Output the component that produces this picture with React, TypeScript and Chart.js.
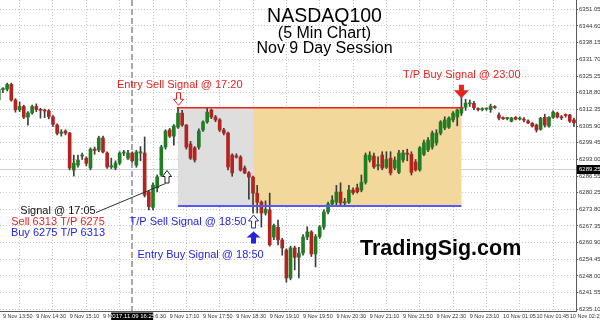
import React, { useEffect, useRef } from 'react';
import { Chart, registerables } from 'chart.js';

Chart.register(...registerables);

const FONT = '"Liberation Sans", Arial, Helvetica, sans-serif';

// first candle is bar -1 (9 Nov 13:45); bar 0 = 9 Nov 13:50, one bar = 5 minutes
const firstBar = -1;

const opens = [
  6316.0, 6320.0, 6320.2, 6322.0, 6316.0, 6312.2, 6313.5, 6309.4, 6311.0, 6313.5,
  6312.3, 6312.0, 6311.8, 6309.5, 6306.3, 6303.1, 6304.0, 6303.2, 6288.9, 6290.8,
  6294.3, 6293.5, 6289.7, 6297.0, 6296.7, 6301.3, 6295.5, 6290.1, 6289.7, 6291.6,
  6295.5, 6293.5, 6295.5, 6290.8, 6295.5, 6295.5, 6280.5, 6274.5, 6282.0, 6287.0,
  6297.8, 6304.4, 6302.0, 6305.5, 6310.9, 6306.3, 6299.0, 6297.5, 6297.8, 6304.4,
  6307.5, 6312.1, 6309.4, 6308.3, 6304.4, 6303.2, 6294.7, 6294.3, 6293.9, 6289.7,
  6287.8, 6286.2, 6280.0, 6276.5, 6272.3, 6273.5, 6263.0, 6266.8, 6261.9, 6258.0,
  6247.2, 6258.8, 6255.2, 6256.8, 6263.0, 6265.0, 6256.5, 6263.2, 6266.9, 6272.7,
  6275.8, 6276.5, 6280.4, 6276.2, 6276.5, 6281.2, 6282.0, 6281.2, 6284.2, 6292.8,
  6294.3, 6290.5, 6294.7, 6290.0, 6293.5, 6289.7, 6288.0, 6292.8, 6295.5, 6295.0,
  6292.0, 6289.0, 6295.0, 6296.7, 6297.8, 6299.4, 6303.2, 6305.2, 6305.5, 6308.3,
  6309.4, 6310.9, 6313.2, 6314.5, 6314.7, 6312.6, 6312.3, 6312.5, 6312.3, 6313.3,
  6310.2, 6309.2, 6308.8, 6307.8, 6309.3, 6308.6, 6308.6, 6307.9, 6307.0, 6306.3,
  6304.7, 6309.3, 6305.9, 6309.3, 6310.9, 6309.4, 6310.2, 6310.2, 6308.3,
];

const highs = [
  6321.0, 6320.8, 6322.5, 6322.5, 6316.5, 6315.3, 6314.0, 6311.5, 6314.0, 6314.5,
  6312.8, 6312.5, 6312.3, 6310.0, 6306.8, 6304.5, 6304.5, 6303.5, 6294.7, 6294.7,
  6295.5, 6294.0, 6297.5, 6297.8, 6302.0, 6302.0, 6296.0, 6293.5, 6292.5, 6296.0,
  6296.5, 6296.5, 6296.0, 6296.5, 6298.0, 6301.7, 6281.0, 6284.0, 6287.0, 6298.5,
  6304.5, 6305.0, 6306.5, 6313.2, 6312.0, 6306.5, 6300.0, 6298.0, 6304.8, 6307.9,
  6312.9, 6312.5, 6310.0, 6308.8, 6305.0, 6303.6, 6295.2, 6295.2, 6294.5, 6290.5,
  6288.3, 6286.6, 6283.0, 6277.0, 6277.0, 6280.0, 6268.0, 6269.6, 6262.5, 6258.5,
  6259.5, 6259.5, 6259.0, 6264.0, 6267.0, 6265.5, 6264.0, 6267.5, 6273.5, 6276.5,
  6279.0, 6283.0, 6284.0, 6278.0, 6283.0, 6282.0, 6283.5, 6287.0, 6295.5, 6296.0,
  6295.5, 6294.0, 6296.0, 6296.0, 6296.0, 6294.0, 6296.5, 6296.5, 6297.0, 6296.0,
  6293.0, 6298.0, 6300.5, 6301.5, 6304.0, 6304.5, 6308.0, 6309.5, 6309.5, 6311.5,
  6312.5, 6317.1, 6316.3, 6316.0, 6315.5, 6313.0, 6313.0, 6313.0, 6314.4, 6313.8,
  6311.0, 6309.5, 6309.3, 6309.3, 6309.6, 6309.5, 6309.2, 6308.3, 6307.3, 6306.7,
  6309.3, 6310.5, 6309.6, 6311.8, 6311.3, 6310.0, 6310.6, 6310.5, 6309.0,
];

const lows = [
  6315.0, 6318.8, 6319.5, 6315.5, 6311.3, 6311.5, 6308.8, 6306.3, 6310.5, 6311.5,
  6309.0, 6309.2, 6308.7, 6305.8, 6302.5, 6302.0, 6302.5, 6289.0, 6286.6, 6290.0,
  6293.0, 6290.5, 6289.0, 6295.0, 6296.0, 6295.5, 6289.5, 6289.5, 6289.0, 6291.0,
  6294.5, 6293.0, 6292.0, 6290.0, 6292.5, 6278.5, 6273.5, 6273.5, 6280.5, 6286.5,
  6297.0, 6301.5, 6298.5, 6305.0, 6305.8, 6297.0, 6293.0, 6292.0, 6297.0, 6303.8,
  6307.0, 6308.8, 6307.6, 6303.8, 6302.5, 6289.0, 6286.5, 6293.5, 6288.5, 6287.5,
  6277.7, 6272.3, 6272.3, 6266.9, 6271.5, 6259.5, 6262.0, 6260.0, 6256.0, 6245.6,
  6246.5, 6250.3, 6247.2, 6256.0, 6262.0, 6255.5, 6251.5, 6262.5, 6266.0, 6272.0,
  6275.0, 6275.5, 6275.5, 6275.0, 6276.0, 6279.5, 6280.0, 6280.5, 6283.5, 6292.0,
  6289.5, 6289.0, 6289.0, 6289.5, 6287.0, 6289.0, 6287.5, 6292.0, 6292.5, 6287.0,
  6288.5, 6288.5, 6294.5, 6296.0, 6297.0, 6298.5, 6302.5, 6304.5, 6305.0, 6307.5,
  6306.0, 6310.0, 6312.0, 6313.5, 6312.3, 6311.8, 6311.8, 6312.0, 6311.2, 6312.7,
  6308.3, 6308.5, 6308.3, 6307.5, 6308.3, 6308.3, 6307.5, 6306.8, 6305.5, 6303.6,
  6304.3, 6305.5, 6305.5, 6308.9, 6309.0, 6308.4, 6309.4, 6307.3, 6305.8,
];

const closes = [
  6320.0, 6320.4, 6322.0, 6316.0, 6312.2, 6313.5, 6309.4, 6311.0, 6313.5, 6312.3,
  6312.0, 6311.7, 6309.5, 6306.6, 6303.1, 6303.6, 6303.2, 6289.7, 6291.6, 6292.8,
  6294.7, 6291.5, 6297.0, 6296.5, 6301.3, 6295.9, 6290.1, 6290.6, 6291.6, 6295.5,
  6295.8, 6295.5, 6292.5, 6295.9, 6296.0, 6279.2, 6274.8, 6283.1, 6286.3, 6297.8,
  6304.0, 6302.0, 6306.0, 6310.9, 6306.3, 6297.8, 6293.5, 6292.8, 6304.0, 6307.5,
  6311.3, 6309.4, 6308.3, 6304.4, 6303.2, 6290.1, 6287.8, 6294.0, 6288.9, 6287.8,
  6286.2, 6280.0, 6276.5, 6272.3, 6273.8, 6260.0, 6267.5, 6261.9, 6258.8, 6247.2,
  6258.8, 6255.2, 6256.8, 6263.0, 6265.0, 6256.5, 6263.2, 6266.9, 6272.7, 6275.8,
  6277.3, 6280.4, 6276.2, 6276.7, 6281.2, 6280.2, 6280.5, 6284.2, 6294.7, 6294.7,
  6290.1, 6291.0, 6289.7, 6293.0, 6287.8, 6292.8, 6295.5, 6295.5, 6295.0, 6288.0,
  6289.0, 6297.5, 6299.5, 6300.5, 6303.2, 6303.2, 6307.5, 6308.3, 6309.0, 6310.9,
  6312.1, 6313.2, 6314.8, 6314.8, 6313.0, 6312.3, 6312.6, 6312.8, 6313.6, 6313.1,
  6309.0, 6308.7, 6309.0, 6309.0, 6308.6, 6308.9, 6308.2, 6307.1, 6305.9, 6304.4,
  6308.9, 6306.3, 6309.3, 6311.3, 6309.4, 6309.1, 6310.0, 6307.8, 6307.2,
];

const tickBars = [0, 8, 16, 24, 32, 40, 48, 56, 64, 72, 80, 88, 96, 104, 112, 120, 128, 136];
const tickLabels = [
  '9 Nov 13:50', '9 Nov 14:30', '9 Nov 15:10', '9 Nov 15:50', '9 Nov 16:30', '9 Nov 17:10',
  '9 Nov 17:50', '9 Nov 18:30', '9 Nov 19:10', '9 Nov 19:50', '9 Nov 20:30', '9 Nov 21:10',
  '9 Nov 21:50', '9 Nov 22:30', '9 Nov 23:10', '10 Nov 01:05', '10 Nov 01:45', '10 Nov 02:25',
];
const yTicks = [
  6235.10, 6241.55, 6248.00, 6254.45, 6260.90, 6267.35, 6273.80, 6280.25, 6286.55, 6293.00,
  6299.45, 6305.90, 6312.35, 6318.80, 6325.25, 6331.70, 6338.15, 6344.60, 6351.05,
];

const sellEntry = { bar: 42, price: 6313 };
const buyEntry = { bar: 60, price: 6275 };
const tpBuy = { bar: 110, price: 6313 };
const signalBar = 39;
const cursorBar = 31;
const cursorLabel = '2017.11.09 16:25';
const lastPrice = 6289.25;

const X_MIN = -0.71;
const X_MAX = 137.49;
const Y_MIN = 6234.44;
const Y_MAX = 6354.64;

const RED = '#e52420';
const BLUE = '#2424e0';

function arrow(ctx: CanvasRenderingContext2D, cx: number, tipY: number, dir: number,
  headW: number, headH: number, stemW: number, stemH: number, fill: string, stroke?: string) {
  ctx.beginPath();
  ctx.moveTo(cx, tipY);
  ctx.lineTo(cx + headW, tipY - dir * headH);
  ctx.lineTo(cx + stemW, tipY - dir * headH);
  ctx.lineTo(cx + stemW, tipY - dir * (headH + stemH));
  ctx.lineTo(cx - stemW, tipY - dir * (headH + stemH));
  ctx.lineTo(cx - stemW, tipY - dir * headH);
  ctx.lineTo(cx - headW, tipY - dir * headH);
  ctx.closePath();
  ctx.fillStyle = fill;
  ctx.fill();
  if (stroke) {
    ctx.strokeStyle = stroke;
    ctx.lineWidth = 1;
    ctx.stroke();
  }
}

const overlay = {
  id: 'overlay',
  beforeDatasetsDraw(chart: any) {
    const { ctx, chartArea: ca, scales } = chart;
    const x = scales.x, y = scales.y;
    ctx.save();
    // last price line
    const lp = Math.round(y.getPixelForValue(lastPrice)) + 0.5;
    ctx.strokeStyle = '#d2d2d2';
    ctx.lineWidth = 1;
    ctx.beginPath();
    ctx.moveTo(ca.left, lp);
    ctx.lineTo(ca.right, lp);
    ctx.stroke();
    // boxes
    const x0 = x.getPixelForValue(sellEntry.bar);
    const x1 = x.getPixelForValue(buyEntry.bar);
    const x2 = x.getPixelForValue(tpBuy.bar);
    const yT = y.getPixelForValue(sellEntry.price);
    const yB = y.getPixelForValue(buyEntry.price);
    ctx.fillStyle = '#dedede';
    ctx.fillRect(x0, yT, x1 - x0, yB - yT);
    ctx.fillStyle = '#f2d99b';
    ctx.fillRect(x1, yT, x2 - x1, yB - yT);
    // cursor dashed line
    const cx = Math.round(x.getPixelForValue(cursorBar));
    ctx.strokeStyle = '#a8a8a8';
    ctx.lineWidth = 2;
    ctx.setLineDash([6, 3]);
    ctx.beginPath();
    ctx.moveTo(cx, ca.top);
    ctx.lineTo(cx, ca.bottom);
    ctx.stroke();
    ctx.restore();
  },
  afterDatasetsDraw(chart: any) {
    const { ctx, scales } = chart;
    const x = scales.x, y = scales.y;
    const x0 = x.getPixelForValue(sellEntry.bar);
    const x2 = x.getPixelForValue(tpBuy.bar);
    ctx.save();
    ctx.strokeStyle = RED;
    ctx.lineWidth = 1.5;
    ctx.beginPath();
    const yT = y.getPixelForValue(sellEntry.price);
    ctx.moveTo(x0, yT);
    ctx.lineTo(x2 + 2, yT);
    ctx.stroke();
    ctx.strokeStyle = '#5858f2';
    ctx.lineWidth = 2;
    ctx.beginPath();
    const yB = y.getPixelForValue(buyEntry.price);
    ctx.moveTo(x0, yB);
    ctx.lineTo(x2, yB);
    ctx.stroke();
    ctx.restore();
  },
  afterDraw(chart: any) {
    const { ctx, chartArea: ca, scales } = chart;
    const x = scales.x, y = scales.y;
    ctx.save();
    const xs = x.getPixelForValue(sellEntry.bar);
    const xb = x.getPixelForValue(buyEntry.bar);
    const xt = x.getPixelForValue(tpBuy.bar);
    const xg = x.getPixelForValue(signalBar);
    const ySell = y.getPixelForValue(sellEntry.price);

    // arrows
    arrow(ctx, xs + 0.5, ySell - 2.5, 1, 5, 6, 2, 6.5, '#ffffff', RED);
    arrow(ctx, xt, ySell - 9.5, 1, 7.5, 8, 2.5, 5.5, RED);
    arrow(ctx, xg + 1.5, 170.5, -1, 4.5, 6, 2, 6.5, '#ffffff', '#202020');
    arrow(ctx, xb + 0.5, 215, -1, 5, 6, 2, 7, '#ffffff', BLUE);
    arrow(ctx, xb + 0.5, 231.5, -1, 7, 6, 2.5, 6, BLUE);

    // connector line from signal note to the arrow
    ctx.strokeStyle = '#303030';
    ctx.lineWidth = 1;
    ctx.beginPath();
    ctx.moveTo(96, 212.5);
    ctx.lineTo(xg, 183.5);
    ctx.stroke();

    // texts
    ctx.textBaseline = 'alphabetic';
    ctx.font = `11px ${FONT}`;
    ctx.textAlign = 'left';
    ctx.fillStyle = RED;
    ctx.fillText('Entry Sell Signal @ 17:20', 117, 88);
    ctx.fillText('T/P Buy Signal @ 23:00', 403, 77.5);
    ctx.fillStyle = BLUE;
    ctx.fillText('T/P Sell Signal @ 18:50', 129.5, 224.5);
    ctx.fillText('Entry Buy Signal @ 18:50', 137.5, 258);
    ctx.textAlign = 'center';
    ctx.fillStyle = '#111111';
    ctx.fillText('Signal @ 17:05', 58, 213.5);
    ctx.fillStyle = RED;
    ctx.fillText('Sell 6313 T/P 6275', 58, 225);
    ctx.fillStyle = BLUE;
    ctx.fillText('Buy 6275 T/P 6313', 58, 236);

    // title
    ctx.fillStyle = '#000000';
    ctx.font = `19.5px ${FONT}`;
    ctx.fillText('NASDAQ100', 324.5, 21.5);
    ctx.font = `16px ${FONT}`;
    ctx.fillText('(5 Min Chart)', 324.5, 37.5);
    ctx.fillText('Nov 9 Day Session', 324.5, 53);

    // watermark
    ctx.font = `bold 21.5px ${FONT}`;
    ctx.fillStyle = '#050505';
    ctx.textAlign = 'left';
    ctx.fillText('TradingSig.com', 360, 255);

    // last price box on the axis
    const lp = Math.round(y.getPixelForValue(lastPrice));
    ctx.fillStyle = '#000000';
    ctx.fillRect(ca.right + 1, lp - 4, 600 - ca.right - 1, 9);
    ctx.fillStyle = '#ffffff';
    ctx.font = `6px ${FONT}`;
    ctx.textBaseline = 'middle';
    ctx.fillText(lastPrice.toFixed(2), ca.right + 3, lp + 0.5);

    // cursor time box on the time axis
    const cx = x.getPixelForValue(cursorBar);
    ctx.fillStyle = '#000000';
    ctx.fillRect(cx - 21, ca.bottom + 1.5, 42, 8);
    ctx.fillStyle = '#ffffff';
    ctx.textAlign = 'center';
    ctx.fillText(cursorLabel, cx, ca.bottom + 5.5);
    ctx.restore();
  },
};

export default function App() {
  const ref = useRef<HTMLCanvasElement | null>(null);

  useEffect(() => {
    const canvas = ref.current;
    if (!canvas) return;
    const wick = opens.map((_, k) => ({ x: firstBar + k, y: [lows[k], highs[k]] }));
    const body = opens.map((o, k) => ({ x: firstBar + k, y: [o, closes[k]] }));
    const bodyColors = opens.map((o, k) => (closes[k] >= o ? '#1f7d22' : '#b3231f'));

    const chart = new Chart(canvas, {
      type: 'bar',
      data: {
        datasets: [
          {
            label: 'wick',
            data: wick as any,
            backgroundColor: '#3c3c3c',
            barThickness: 1,
            grouped: false,
            order: 2,
          } as any,
          {
            label: 'body',
            data: body as any,
            backgroundColor: bodyColors,
            barThickness: 3,
            minBarLength: 1,
            grouped: false,
            order: 1,
          } as any,
        ],
      },
      options: {
        animation: false,
        responsive: false,
        maintainAspectRatio: false,
        layout: { padding: 0 },
        plugins: {
          legend: { display: false },
          tooltip: { enabled: false },
          title: { display: false },
        },
        scales: {
          x: {
            type: 'linear',
            min: X_MIN,
            max: X_MAX,
            offset: false,
            position: 'bottom',
            grid: { display: false, drawTicks: false },
            border: { display: true, color: '#5a5a5a', width: 1 },
            ticks: {
              autoSkip: false,
              maxRotation: 0,
              minRotation: 0,
              align: 'start',
              padding: 2,
              color: '#333333',
              font: { size: 5.5, family: FONT },
              callback: (v: any) => {
                const k = tickBars.indexOf(Number(v));
                return k >= 0 ? tickLabels[k] : '';
              },
            },
            afterBuildTicks: (s: any) => {
              s.ticks = tickBars.map((v) => ({ value: v }));
            },
            afterFit: (s: any) => {
              s.height = 9;
              s.paddingLeft = 0;
              s.paddingRight = 0;
            },
          },
          xg: {
            type: 'linear',
            min: X_MIN,
            max: X_MAX,
            offset: false,
            position: 'bottom',
            grid: { display: true, color: '#c6c6c6', drawTicks: false, lineWidth: 1 },
            border: { display: false, dash: [1, 2] },
            ticks: { display: false },
            afterBuildTicks: (s: any) => {
              s.ticks = tickBars.map((v) => ({ value: v }));
            },
            afterFit: (s: any) => {
              s.height = 0;
              s.paddingLeft = 0;
              s.paddingRight = 0;
            },
          },
          y: {
            type: 'linear',
            position: 'right',
            min: Y_MIN,
            max: Y_MAX,
            grid: {
              display: true,
              color: '#c6c6c6',
              drawTicks: true,
              tickLength: 2,
              tickColor: '#5a5a5a',
              tickBorderDash: [],
            },
            border: { display: true, color: '#5a5a5a', width: 1, dash: [1, 2] },
            ticks: {
              autoSkip: false,
              padding: 1,
              color: '#333333',
              font: { size: 6, family: FONT },
              callback: (v: any) => Number(v).toFixed(2),
            },
            afterBuildTicks: (s: any) => {
              s.ticks = yTicks.map((v) => ({ value: v }));
            },
            afterFit: (s: any) => {
              s.width = 24;
              s.paddingTop = 0;
              s.paddingBottom = 0;
            },
          },
        },
      } as any,
      plugins: [overlay],
    });
    return () => chart.destroy();
  }, []);

  return (
    <div style={{ position: 'fixed', left: 0, top: 0, width: 600, height: 320, background: '#ffffff' }}>
      <canvas ref={ref} width={600} height={320} style={{ display: 'block' }} />
    </div>
  );
}
